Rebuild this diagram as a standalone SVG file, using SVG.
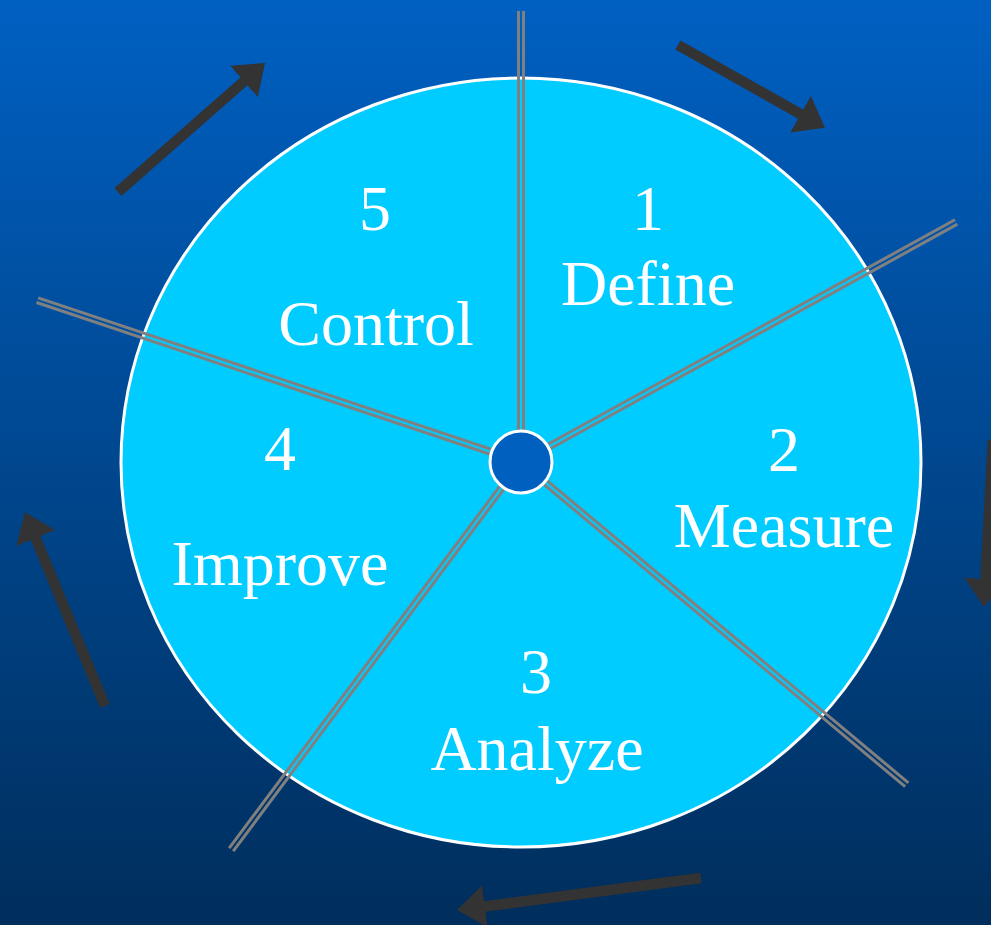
<svg xmlns="http://www.w3.org/2000/svg" width="991" height="925" viewBox="0 0 991 925">
  <defs>
    <linearGradient id="bg" x1="0" y1="0" x2="0" y2="1">
      <stop offset="0" stop-color="#0060c2"/>
      <stop offset="1" stop-color="#002e5c"/>
    </linearGradient>
    <marker id="head" viewBox="0 0 28 42" refX="12" refY="21" markerWidth="28" markerHeight="42" markerUnits="userSpaceOnUse" orient="auto">
      <path d="M0,0 L28,21 L0,42 Z" fill="#333333"/>
    </marker>
    <style>
      .wheel { fill: #00ccff; stroke: #ffffff; stroke-width: 3; }
      .hub { fill: #0060c0; stroke: #ffffff; stroke-width: 3; }
      .spoke line { stroke: #808080; stroke-width: 3; }
      .flow { stroke: #333333; stroke-width: 10.5; fill: none; marker-end: url(#head); }
      text { font-family: "Liberation Serif", "Times New Roman", serif; font-size: 64px; fill: #ffffff; text-anchor: middle; }
    </style>
  </defs>

  <rect x="0" y="0" width="991" height="925" fill="url(#bg)"/>

  <!-- cycle arrows around the wheel -->
  <g id="connectors">
    <line class="flow" x1="118" y1="192" x2="253" y2="73.5"/>
    <line class="flow" x1="678" y1="45" x2="811" y2="120"/>
    <line class="flow" x1="993" y1="440" x2="984.8" y2="591"/>
    <line class="flow" x1="701" y1="878" x2="472.9" y2="908"/>
    <line class="flow" x1="105" y1="706" x2="31" y2="527"/>
  </g>

  <!-- wheel -->
  <ellipse id="wheel" class="wheel" cx="521" cy="462.5" rx="400" ry="384.5"/>

  <!-- double-line spokes radiating from the hub -->
  <g id="spokes" class="spoke">
    <g transform="translate(521,462) rotate(-90)"><line x1="0" y1="-2.5" x2="451" y2="-2.5"/><line x1="0" y1="2.5" x2="451" y2="2.5"/></g>
    <g transform="translate(521,462) rotate(-28.88)"><line x1="0" y1="-2.5" x2="497" y2="-2.5"/><line x1="0" y1="2.5" x2="497" y2="2.5"/></g>
    <g transform="translate(521,462) rotate(39.92)"><line x1="0" y1="-2.5" x2="503" y2="-2.5"/><line x1="0" y1="2.5" x2="503" y2="2.5"/></g>
    <g transform="translate(521,462) rotate(126.78)"><line x1="0" y1="-2.5" x2="484" y2="-2.5"/><line x1="0" y1="2.5" x2="484" y2="2.5"/></g>
    <g transform="translate(521,462) rotate(198.5)"><line x1="0" y1="-2.5" x2="510" y2="-2.5"/><line x1="0" y1="2.5" x2="510" y2="2.5"/></g>
  </g>

  <circle id="hub" class="hub" cx="521" cy="462" r="31"/>

  <!-- segment labels -->
  <g id="define"><text x="648" y="230">1</text><text x="648" y="305">Define</text></g>
  <g id="measure"><text x="784" y="471">2</text><text x="784" y="547">Measure</text></g>
  <g id="analyze"><text x="536" y="693">3</text><text x="537" y="770">Analyze</text></g>
  <g id="improve"><text x="280" y="470">4</text><text x="280" y="585">Improve</text></g>
  <g id="control"><text x="375" y="230">5</text><text x="376" y="345">Control</text></g>
</svg>
